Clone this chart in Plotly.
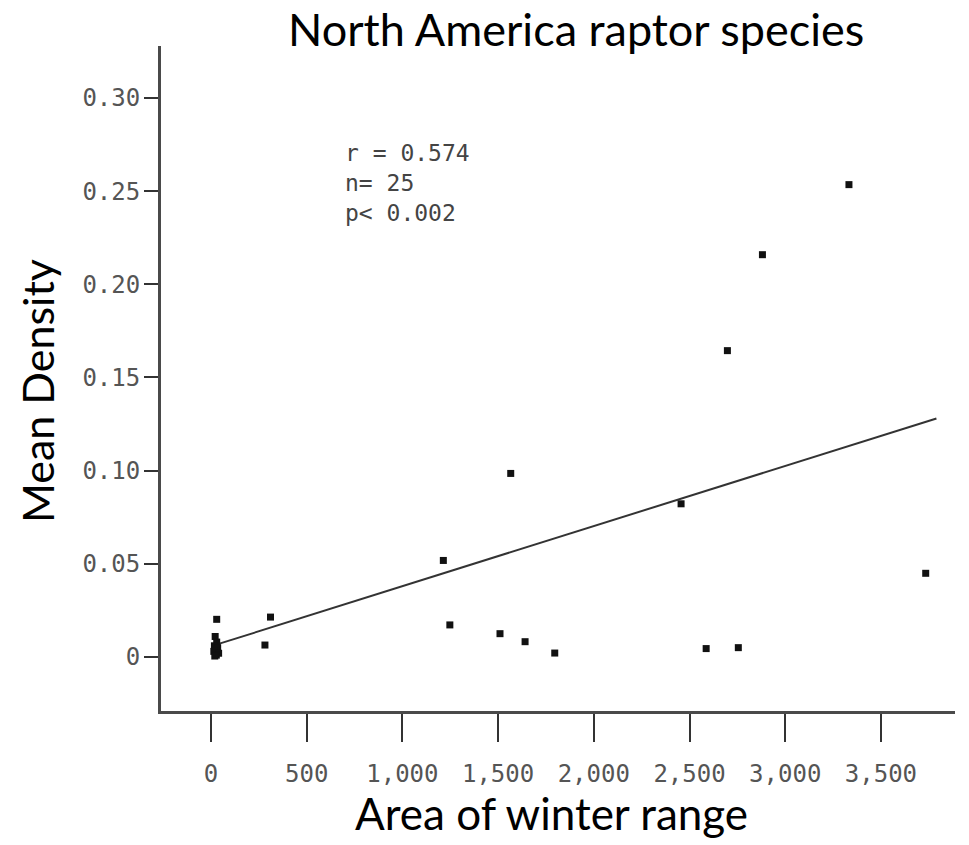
import plotly.graph_objects as go

# Data: area of winter range vs mean density (North America raptor species)
area = [3333, 2881, 2698, 1566, 2456, 1214, 3734, 1248, 1510, 1641, 1796, 2587, 2755,
        311, 282, 30,
        22, 30, 18, 35, 25, 15, 40, 28, 20]
density = [0.2535, 0.2159, 0.1644, 0.0985, 0.0822, 0.0518, 0.0449, 0.0172, 0.0125, 0.0082,
           0.0021, 0.0045, 0.0050,
           0.0214, 0.0064, 0.0202,
           0.011, 0.008, 0.006, 0.005, 0.004, 0.003, 0.002, 0.001, 0.0005]

fit_x = [40, 3790]
fit_y = [0.0070, 0.1280]

x_ticks = [0, 500, 1000, 1500, 2000, 2500, 3000, 3500]
x_tick_labels = ["0", "500", "1,000", "1,500", "2,000", "2,500", "3,000", "3,500"]
y_ticks = [0, 0.05, 0.10, 0.15, 0.20, 0.25, 0.30]
y_tick_labels = ["0", "0.05", "0.10", "0.15", "0.20", "0.25", "0.30"]

stats_text = "r = 0.574<br>n= 25<br>p< 0.002"

axis_col = "#4a4a4a"
tick_font = dict(family="DejaVu Sans Mono", size=24, color="#555555")

fig = go.Figure()
fig.add_trace(go.Scatter(x=fit_x, y=fit_y, mode="lines",
                         line=dict(color="#333333", width=2), hoverinfo="skip",
                         showlegend=False))
fig.add_trace(go.Scatter(x=area, y=density, mode="markers",
                         marker=dict(color="#111111", size=7, symbol="square"),
                         showlegend=False))

fig.update_layout(
    width=969, height=845,
    margin=dict(l=161, r=14, t=46, b=134),
    paper_bgcolor="white", plot_bgcolor="white",
    xaxis=dict(range=[-261, 3887], showgrid=False, zeroline=False,
               showline=True, linecolor=axis_col, linewidth=3,
               ticks="outside", ticklen=28, tickwidth=2, tickcolor="#333333",
               ticklabelstandoff=11,
               tickvals=x_ticks, ticktext=x_tick_labels, tickfont=tick_font),
    yaxis=dict(range=[-0.0290, 0.3279], showgrid=False, zeroline=False,
               showline=True, linecolor=axis_col, linewidth=3,
               ticks="outside", ticklen=14, tickwidth=2, tickcolor="#333333",
               ticklabelstandoff=-1,
               tickvals=y_ticks, ticktext=y_tick_labels, tickfont=tick_font),
    annotations=[
        dict(text="North America raptor species", xref="paper", yref="paper",
             x=0.5227, y=1.0256, showarrow=False, xanchor="center", yanchor="middle",
             font=dict(family="Lato", size=45, color="black")),
        dict(text="Area of winter range", xref="paper", yref="paper",
             x=0.4912, y=-0.1534, showarrow=False, xanchor="center", yanchor="middle",
             font=dict(family="Lato", size=44, color="black")),
        dict(text="Mean Density", xref="paper", yref="paper",
             x=-0.1562, y=0.4812, showarrow=False, xanchor="center", yanchor="middle",
             textangle=-90,
             font=dict(family="Lato", size=43, color="black")),
        dict(text=stats_text, xref="paper", yref="paper",
             x=0.2292, y=0.794, showarrow=False, xanchor="left", yanchor="middle",
             align="left",
             font=dict(family="DejaVu Sans Mono", size=23, color="#444444")),
    ],
)

fig.write_html("out.html", config={"displayModeBar": False},
               post_script="document.body.style.margin='0';")
